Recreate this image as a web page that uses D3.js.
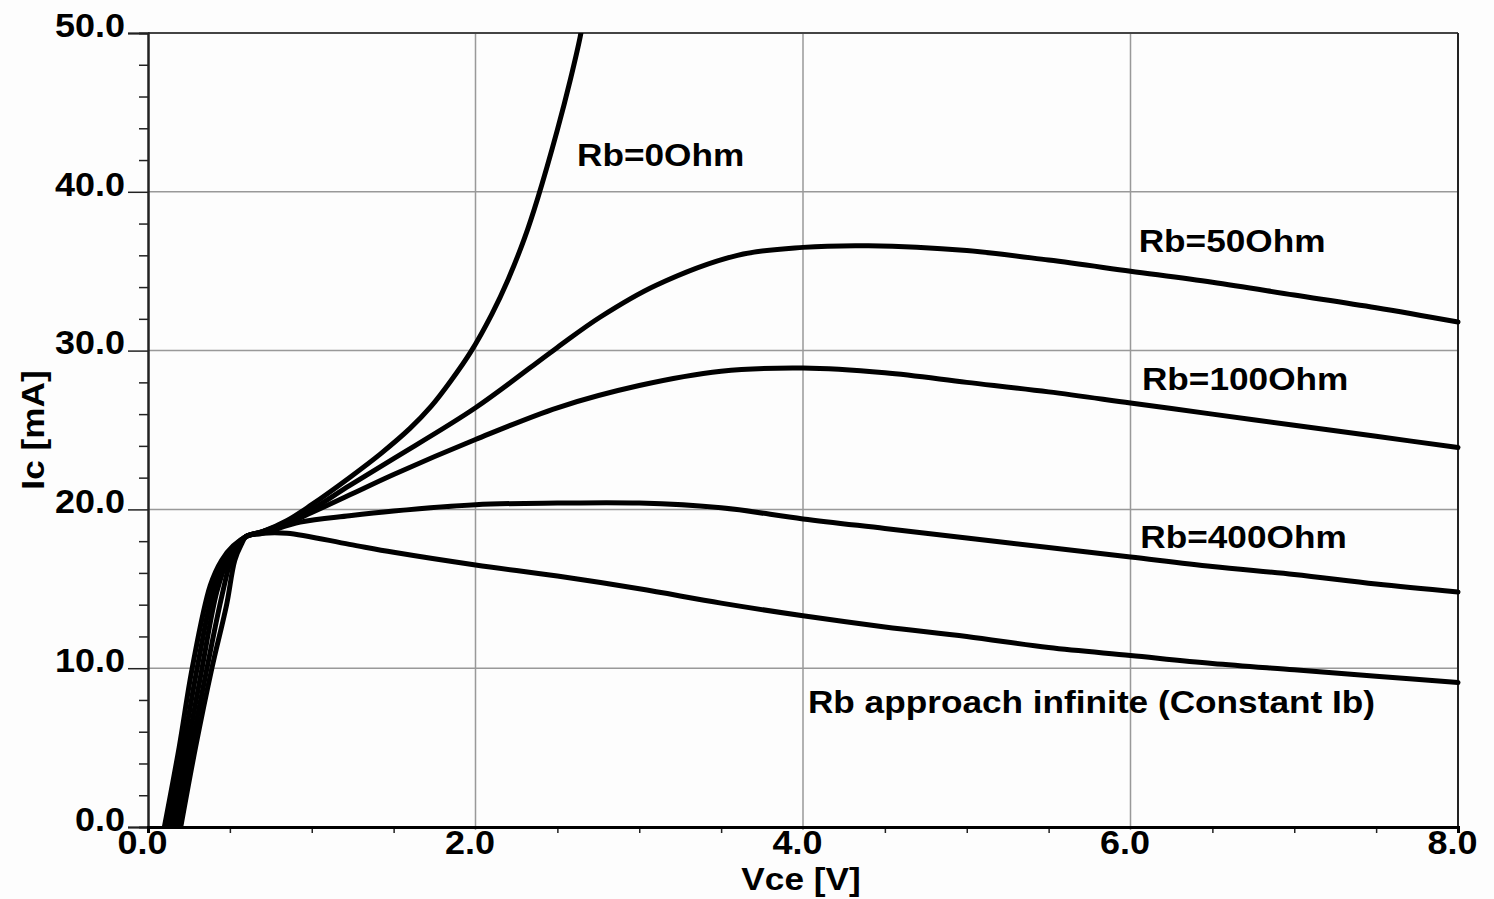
<!DOCTYPE html>
<html>
<head>
<meta charset="utf-8">
<script src="https://cdn.jsdelivr.net/npm/d3@7"></script>
<style>
  body { margin: 0; background: #fdfdfd; }
  svg { display: block; }
  text { font-family: "Liberation Sans", Arial, sans-serif; font-weight: bold; fill: #000; }
</style>
</head>
<body>
<svg id="mainSvg"></svg>
<script>
var WIDTH = 1494;
var HEIGHT = 899;
var LEFT = 148, TOP = 33, RIGHT = 1458, BOTTOM = 827;

// axis ticks
var X_MAJOR = [0, 2, 4, 6, 8];
var X_MINOR = [0.5, 1, 1.5, 2.5, 3, 3.5, 4.5, 5, 5.5, 6.5, 7, 7.5];
var Y_MAJOR = [0, 10, 20, 30, 40, 50];
var Y_MINOR = [2, 4, 6, 8, 12, 14, 16, 18, 22, 24, 26, 28, 32, 34, 36, 38, 42, 44, 46, 48];

// Vce [V] / Ic [mA]
var RB0 = [[0.10,0],[0.19,5],[0.27,10],[0.38,15.2],[0.45,16.8],[0.52,17.7],[0.6,18.3],[0.7,18.6],[0.85,19.3],
  [1.0,20.3],[1.23,22.0],[1.42,23.5],[1.6,25.1],[1.73,26.5],[1.85,28.1],[1.97,29.9],[2.1,32.3],[2.2,34.5],
  [2.3,37.1],[2.38,39.6],[2.5,43.9],[2.58,47.1],[2.64,49.8],[2.66,51.0]];
var RB50 = [[0.125,0],[0.215,5],[0.30,10],[0.40,15.0],[0.47,16.9],[0.53,17.7],[0.6,18.3],[0.7,18.6],[0.85,19.2],
  [1.0,20.0],[1.23,21.5],[1.5,23.2],[2.0,26.4],[2.5,30.2],[2.76,32.1],[3.1,34.1],[3.6,36.0],[4.0,36.5],[4.4,36.6],
  [5.0,36.3],[5.5,35.7],[6.0,35.0],[6.5,34.3],[7.0,33.5],[7.5,32.7],[8.0,31.8]];
var RB100 = [[0.15,0],[0.24,5],[0.33,10],[0.42,14.8],[0.49,16.9],[0.54,17.7],[0.6,18.3],[0.7,18.6],[0.85,19.1],
  [1.0,19.8],[1.23,20.9],[1.5,22.2],[2.0,24.4],[2.5,26.4],[3.0,27.8],[3.5,28.7],[4.0,28.9],[4.5,28.6],
  [5.0,28.0],[5.5,27.4],[6.0,26.7],[6.5,26.0],[7.0,25.3],[7.5,24.6],[8.0,23.9]];
var RB400 = [[0.175,0],[0.265,5],[0.36,10],[0.45,14.5],[0.51,16.9],[0.56,17.8],[0.6,18.3],[0.7,18.5],[0.93,19.2],
  [1.23,19.6],[1.5,19.9],[2.0,20.3],[2.5,20.4],[3.0,20.4],[3.5,20.1],[4.0,19.4],[4.5,18.8],[5.0,18.2],[5.5,17.6],
  [6.0,17.0],[6.5,16.4],[7.0,15.9],[7.5,15.3],[8.0,14.8]];
var RBINF = [[0.20,0],[0.29,5],[0.39,10],[0.48,14.0],[0.53,16.8],[0.57,17.8],[0.6,18.3],[0.7,18.5],[0.85,18.5],
  [1.23,17.8],[1.5,17.3],[2.0,16.5],[2.5,15.8],[3.0,15.0],[3.5,14.1],[4.0,13.3],[4.5,12.6],[5.0,12.0],[5.5,11.3],
  [6.0,10.8],[6.5,10.3],[7.0,9.9],[7.5,9.5],[8.0,9.1]];
var SERIES = [RB0, RB50, RB100, RB400, RBINF];

// labels placed at data coords (left edge, baseline)
var LABELS = [
  { text: "Rb=0Ohm", x: 2.62, y: 41.6 },
  { text: "Rb=50Ohm", x: 6.05, y: 36.2 },
  { text: "Rb=100Ohm", x: 6.07, y: 27.5 },
  { text: "Rb=400Ohm", x: 6.06, y: 17.6 },
  { text: "Rb approach infinite (Constant Ib)", x: 4.03, y: 7.2 }
];

var x = d3.scaleLinear().domain([0, 8]).range([LEFT, RIGHT]);
var y = d3.scaleLinear().domain([0, 50]).range([BOTTOM, TOP]);

// the original lettering is a bit wider than Arial, stretch it
function widen(sel, k) {
  sel.each(function () {
    var len = this.getComputedTextLength();
    d3.select(this).attr("textLength", len * k).attr("lengthAdjust", "spacingAndGlyphs");
  });
}

function render() {
  var svg = d3.select("#mainSvg").attr("width", WIDTH).attr("height", HEIGHT);

  svg.append("rect").attr("width", WIDTH).attr("height", HEIGHT).attr("fill", "#fdfdfd");

  // grid
  svg.append("g").selectAll("line").data([2, 4, 6]).enter().append("line")
    .attr("x1", function (d) { return x(d); }).attr("x2", function (d) { return x(d); })
    .attr("y1", TOP).attr("y2", BOTTOM + 3)
    .attr("stroke", "#999").attr("stroke-width", 1.5);
  svg.append("g").selectAll("line").data([10, 20, 30, 40]).enter().append("line")
    .attr("x1", LEFT).attr("x2", RIGHT)
    .attr("y1", function (d) { return y(d); }).attr("y2", function (d) { return y(d); })
    .attr("stroke", "#999").attr("stroke-width", 1.5);

  // frame top / right
  svg.append("line").attr("x1", LEFT).attr("x2", RIGHT).attr("y1", TOP).attr("y2", TOP)
    .attr("stroke", "#444").attr("stroke-width", 2);
  svg.append("line").attr("x1", RIGHT).attr("x2", RIGHT).attr("y1", TOP).attr("y2", BOTTOM)
    .attr("stroke", "#222").attr("stroke-width", 2);

  // y axis
  var yMinor = svg.append("g").attr("transform", "translate(" + LEFT + ",0)")
    .call(d3.axisLeft(y).tickValues(Y_MINOR).tickSize(9).tickFormat(""));
  var yMajor = svg.append("g").attr("transform", "translate(" + LEFT + ",0)")
    .call(d3.axisLeft(y).tickValues(Y_MAJOR).tickSize(20).tickPadding(3).tickFormat(d3.format(".1f")));
  [yMinor, yMajor].forEach(function (g) {
    g.select(".domain").attr("stroke", "#222").attr("stroke-width", 2);
    g.selectAll(".tick line").attr("stroke", "#222").attr("stroke-width", 1.5);
  });
  yMajor.selectAll(".tick text").attr("font-size", 33).attr("dy", "0.1em")
    .attr("font-family", "Liberation Sans, Arial, sans-serif").attr("font-weight", "bold").attr("fill", "#000")
    .call(widen, 1.09);

  // x axis
  var xMinor = svg.append("g").attr("transform", "translate(0," + BOTTOM + ")")
    .call(d3.axisBottom(x).tickValues(X_MINOR).tickSize(6).tickFormat(""));
  var xMajor = svg.append("g").attr("transform", "translate(0," + BOTTOM + ")")
    .call(d3.axisBottom(x).tickValues(X_MAJOR).tickSize(0).tickPadding(4).tickFormat(d3.format(".1f")));
  [xMinor, xMajor].forEach(function (g) {
    g.select(".domain").attr("stroke", "#000").attr("stroke-width", 3);
    g.selectAll(".tick line").attr("stroke", "#222").attr("stroke-width", 1.5);
  });
  xMajor.selectAll(".tick text").attr("font-size", 33).attr("dx", -6)
    .attr("font-family", "Liberation Sans, Arial, sans-serif").attr("font-weight", "bold").attr("fill", "#000")
    .call(widen, 1.09);

  // curves
  svg.append("clipPath").attr("id", "plotClip").append("rect")
    .attr("x", LEFT - 10).attr("y", TOP).attr("width", RIGHT - LEFT + 20).attr("height", BOTTOM - TOP);
  var line = d3.line()
    .x(function (d) { return x(d[0]); })
    .y(function (d) { return y(d[1]); })
    .curve(d3.curveCatmullRom.alpha(0.5));
  svg.append("g").attr("clip-path", "url(#plotClip)")
    .selectAll("path").data(SERIES).enter().append("path")
    .attr("d", line)
    .attr("fill", "none")
    .attr("stroke", "#000")
    .attr("stroke-width", 5)
    .attr("stroke-linecap", "round")
    .attr("stroke-linejoin", "round");

  // curve labels
  svg.append("g").selectAll("text").data(LABELS).enter().append("text")
    .attr("x", function (d) { return x(d.x); })
    .attr("y", function (d) { return y(d.y); })
    .attr("font-size", 32)
    .text(function (d) { return d.text; })
    .call(widen, 1.1);

  // axis titles
  svg.append("text").attr("x", 801).attr("y", 890).attr("text-anchor", "middle")
    .attr("font-size", 32).text("Vce [V]").call(widen, 1.1);
  svg.append("text").attr("transform", "translate(44,430) rotate(-90)").attr("text-anchor", "middle")
    .attr("font-size", 32).text("Ic [mA]").call(widen, 1.1);
}

render();
</script>
</body>
</html>
